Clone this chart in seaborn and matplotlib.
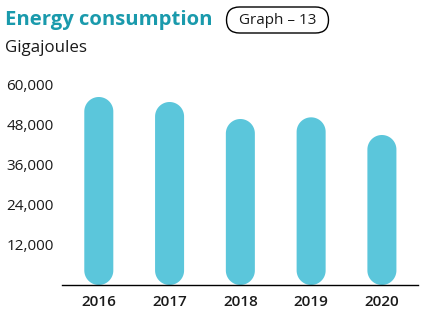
import matplotlib
matplotlib.use("Agg")
import matplotlib.pyplot as plt
import seaborn as sns
import pandas as pd
import numpy as np
from matplotlib.patches import FancyBboxPatch, Polygon
from matplotlib.transforms import IdentityTransform
from matplotlib.ticker import FuncFormatter

years = ["2016", "2017", "2018", "2019", "2020"]
consumption = [56400, 54900, 49800, 50300, 45000]
yticks = [12000, 24000, 36000, 48000, 60000]

title = "Energy consumption"
badge = "Graph \u2013 13"
unit = "Gigajoules"

BAR = "#5BC6DB"
TEAL = "#1A9AAC"

sns.set_theme(style="white")
plt.rcParams["font.family"] = ["Open Sans", "DejaVu Sans"]

df = pd.DataFrame({"year": years, "value": consumption})

W, H = 424, 321
fig = plt.figure(figsize=(W/100, H/100), dpi=100)
ax = fig.add_axes([62/W, 1-285/H, (418-62)/W, (285-85)/H])
sns.barplot(data=df, x="year", y="value", color=BAR, width=0.41, ax=ax,
            saturation=1, errorbar=None)
ax.set_xlim(-0.52, 4.51)
ax.set_ylim(0, 60000)

# convert bars into capsules
fig.canvas.draw()
bb = ax.get_window_extent()
xpp = (4.51 + 0.52) / bb.width
ypp = 60000 / bb.height
aspect = ypp / xpp
bars = list(ax.patches)
theta_top = np.linspace(0, np.pi, 60)
theta_bot = np.linspace(np.pi, 2 * np.pi, 60)
for p in bars:
    x, y, w, h = p.get_x(), p.get_y(), p.get_width(), p.get_height()
    p.set_visible(False)
    r = w / 2
    ry = r * aspect
    cx = x + r
    top = np.column_stack([cx + r * np.cos(theta_top),
                           y + h - ry + ry * np.sin(theta_top)])
    bot = np.column_stack([cx + r * np.cos(theta_bot),
                           y + ry + ry * np.sin(theta_bot)])
    verts = np.vstack([top, bot])
    ax.add_patch(Polygon(verts, closed=True, facecolor=BAR, edgecolor="none",
                         clip_on=False, zorder=2))

for s in ["top", "right", "left"]:
    ax.spines[s].set_visible(False)
ax.spines["bottom"].set_color("black")
ax.spines["bottom"].set_linewidth(1.0)
ax.spines["bottom"].set_zorder(3)

ax.set_yticks(yticks)
ax.yaxis.set_major_formatter(FuncFormatter(lambda v, _: f"{int(v):,}"))
ax.tick_params(axis="y", length=0, pad=6, labelsize=11, labelcolor="#1a1a1a")
ax.tick_params(axis="x", length=0, pad=7, labelsize=11, labelcolor="#1a1a1a")
for t in ax.get_xticklabels():
    t.set_fontweight("semibold")
ax.set_xlabel("")
ax.set_ylabel("")

fig.text(5/W, 1-20/H, title, fontsize=14.6, fontweight="bold", color=TEAL,
         va="center", ha="left")

# badge
badge_box = FancyBboxPatch((226.5, H - 33), 102, 26,
                           boxstyle="round,pad=0,rounding_size=13",
                           transform=IdentityTransform(), facecolor="white",
                           edgecolor="black", linewidth=1.0)
fig.patches.append(badge_box)
badge_box.set_figure(fig)
fig.text(277.5/W, 1-20/H, badge, fontsize=11, color="#1a1a1a",
         va="center", ha="center")
fig.text(5/W, 1-48/H, unit, fontsize=12.2, color="#1a1a1a",
         va="center", ha="left")

fig.savefig("out.png", dpi=100)
